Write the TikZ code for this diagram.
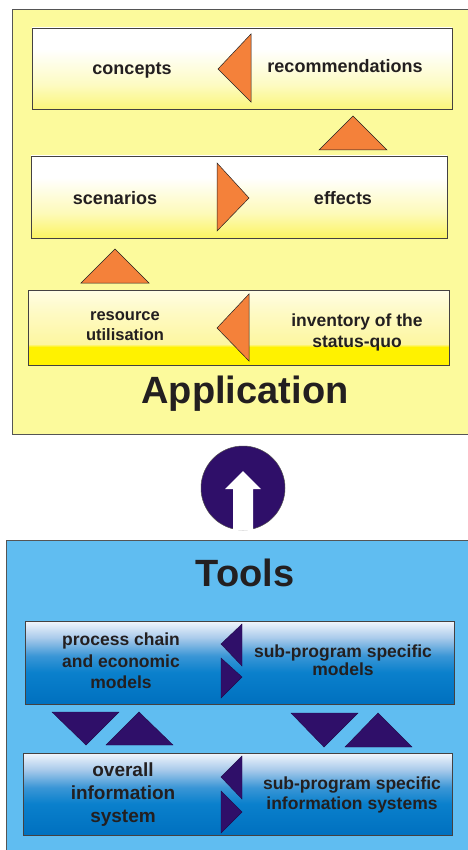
\documentclass[tikz,border=0pt]{standalone}
\usepackage{fontspec}
\setmainfont{Liberation Sans}
\definecolor{ink}{HTML}{231F20}
\definecolor{appyellow}{HTML}{FCFA9C}
\definecolor{toolblue}{HTML}{60BDF1}
\definecolor{frame}{HTML}{555555}
\definecolor{orangetri}{HTML}{F4813A}
\definecolor{purpletri}{HTML}{2F0F69}
% shading stops
\definecolor{yA}{HTML}{FBF67A}
\definecolor{yAm}{HTML}{FDFBC2}
\definecolor{yB}{HTML}{FBF462}
\definecolor{yBm}{HTML}{FDFAB8}
\definecolor{yC}{HTML}{FFF200}
\definecolor{yCa}{HTML}{FDF6A0}
\definecolor{yCb}{HTML}{FEFAC4}
\definecolor{yCc}{HTML}{FFFDE4}
\definecolor{bA}{HTML}{0070BF}
\definecolor{bB}{HTML}{0A80CC}
\definecolor{bC}{HTML}{3A96D6}
\definecolor{bD}{HTML}{AACBEB}
\definecolor{bE}{HTML}{F2F6FC}
% vertical shadings: the box spans 25bp (bottom) to 75bp (top)
\pgfdeclareverticalshading{paleyellow}{100bp}{color(0bp)=(yA);color(25bp)=(yA);color(40bp)=(yAm);color(62bp)=(white);color(100bp)=(white)}
\pgfdeclareverticalshading{warmyellow}{100bp}{color(0bp)=(yB);color(25bp)=(yB);color(40bp)=(yBm);color(62bp)=(white);color(100bp)=(white)}
\pgfdeclareverticalshading{brightyellow}{100bp}{color(0bp)=(yC);color(37bp)=(yC);color(39bp)=(yCa);color(60bp)=(yCb);color(75bp)=(yCc);color(100bp)=(yCc)}
\pgfdeclareverticalshading{deepblue}{100bp}{color(0bp)=(bA);color(25bp)=(bA);color(44bp)=(bB);color(54bp)=(bC);color(65bp)=(bD);color(75bp)=(bE);color(100bp)=(bE)}
\begin{document}
\begin{tikzpicture}[x=1pt,y=-1pt,
  panel/.style={draw=frame, line width=0.9pt},
  rowbox/.style={draw=ink!85, line width=0.8pt, rectangle, inner sep=0pt},
  lbl/.style={font=\bfseries\fontsize{18}{21}\selectfont, text=ink, align=center, inner sep=0pt},
  small/.style={font=\bfseries\fontsize{16.5}{20}\selectfont, text=ink, align=center, inner sep=0pt},
  title/.style={font=\bfseries\fontsize{38}{40}\selectfont, text=ink, inner sep=0pt},
  otri/.style={fill=orangetri, draw=ink, line width=0.5pt, line join=miter},
  ptri/.style={fill=purpletri, draw=purpletri!70!black, line width=0.4pt}]
\useasboundingbox (0,0) rectangle (467,850);
\fill[white] (0,0) rectangle (467,850);

% ---------- Application panel ----------
\draw[panel, fill=appyellow] (12,9) rectangle (490,434);

\node[rowbox, shading=paleyellow, minimum width=420, minimum height=81] (rowA) at (242,68.5) {};
\node[rowbox, shading=warmyellow, minimum width=416, minimum height=82] (rowB) at (239,197) {};
\node[rowbox, shading=brightyellow, minimum width=421, minimum height=75] (rowC) at (238.5,327.5) {};

\node[lbl] (concepts) at (132,70) {concepts};
\node[lbl] (recomm) at (345,66) {recommendations};
\node[lbl] (scen) at (115,198) {scenarios};
\node[lbl] (effects) at (343,198) {effects};
\node[small] (resource) at (125,326) {resource\\utilisation};
\node[lbl, font=\bfseries\fontsize{17.5}{21}\selectfont] (inventory) at (357,332) {inventory of the\\status-quo};

% orange direction markers
\draw[otri] (251,34) -- (218,69) -- (251,102) -- cycle;
\draw[otri] (217,163) -- (249,198) -- (217,231) -- cycle;
\draw[otri] (249,294) -- (217,328) -- (249,361) -- cycle;
\draw[otri] (319,150) -- (353,116) -- (387,150) -- cycle;
\draw[otri] (81,283) -- (115,249) -- (149,283) -- cycle;

\node[title] (application) at (245,394) {Application};

% ---------- upward link ----------
\node[circle, fill=purpletri, draw=ink!80, line width=0.5pt, minimum size=84, inner sep=0pt] (upcircle) at (243,488) {};
\fill[white] (233,530) -- (233,489) -- (225,489) -- (243,471) -- (261,489) -- (253,489) -- (253,530) -- cycle;

% ---------- Tools panel ----------
\draw[panel, fill=toolblue] (6,540) rectangle (490,870);
\node[title] (tools) at (245,573) {Tools};

\node[rowbox, shading=deepblue, minimum width=429, minimum height=83] (rowD) at (239.5,662.5) {};
\node[rowbox, shading=deepblue, minimum width=429, minimum height=82] (rowE) at (237.5,794) {};

\node[lbl, font=\bfseries\fontsize{17.5}{21.5}\selectfont] (process) at (121,661) {process chain\\and economic\\models};
\node[lbl, font=\bfseries\fontsize{17.5}{18.5}\selectfont] (submodels) at (343,660) {sub-program specific\\models};
\node[lbl, font=\bfseries\fontsize{19}{23}\selectfont] (overall) at (123,795) {overall\\information\\system};
\node[lbl, font=\bfseries\fontsize{17.5}{19.5}\selectfont] (subinfo) at (352,795) {sub-program specific\\information systems};

% purple exchange markers
\draw[ptri] (242,624) -- (221,644) -- (242,666) -- cycle;
\draw[ptri] (221,658) -- (242,677) -- (221,698) -- cycle;
\draw[ptri] (242,756) -- (221,777) -- (242,799) -- cycle;
\draw[ptri] (221,791) -- (242,812) -- (221,833) -- cycle;

\draw[ptri] (52,712) -- (119,712) -- (86,745) -- cycle;
\draw[ptri] (106,745) -- (139,712) -- (173,745) -- cycle;
\draw[ptri] (291,713) -- (358,713) -- (324,747) -- cycle;
\draw[ptri] (345,747) -- (378,713) -- (412,747) -- cycle;
\end{tikzpicture}
\end{document}
